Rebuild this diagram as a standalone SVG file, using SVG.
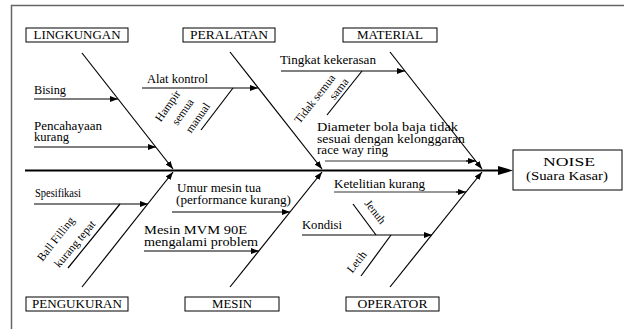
<svg xmlns="http://www.w3.org/2000/svg" width="624" height="329" viewBox="0 0 624 329">
<defs>
<marker id="ah" markerUnits="userSpaceOnUse" markerWidth="8" markerHeight="6" refX="8" refY="3" orient="auto"><path d="M0,0 L8,3 L0,6 z" fill="#000"/></marker>
<style>
text{font-family:"Liberation Serif","Times New Roman",serif;font-size:11.5px;fill:#000}
.box{fill:#fff;stroke:#000;stroke-width:1}
.c{text-anchor:middle}
.ln{stroke:#000;stroke-width:1.2;fill:none}
.ar{stroke:#000;stroke-width:1.2;fill:none;marker-end:url(#ah)}
.gr{stroke:#777;stroke-width:1.6;fill:none}
.rt{font-size:11.5px;text-anchor:middle}
</style>
</defs>
<rect x="11.5" y="5.5" width="650" height="350" fill="none" stroke="#666" stroke-width="1.5"/>

<g id="connectors">
<line x1="25" y1="170.5" x2="500" y2="170.5" stroke="#000" stroke-width="2"/>
<polygon points="498,166 513,170.5 498,175" fill="#000"/>
<line class="ar" x1="82" y1="53" x2="173" y2="169"/>
<line class="ar" x1="230" y1="52" x2="322" y2="169"/>
<line class="ar" x1="390" y1="52" x2="482" y2="169"/>
<line class="ar" x1="82" y1="287" x2="173" y2="172"/>
<line class="ar" x1="230" y1="287" x2="322" y2="172"/>
<line class="ar" x1="390" y1="287" x2="482" y2="172"/>
<line class="ar" x1="34" y1="99" x2="118" y2="99"/>
<line class="ar" x1="34" y1="147" x2="156" y2="147"/>
<line class="ar" x1="142" y1="88" x2="258" y2="88"/>
<line class="ln" x1="233" y1="88" x2="201" y2="130"/>
<line class="ar" x1="281" y1="71" x2="405" y2="71"/>
<line class="ln" x1="362" y1="71" x2="327" y2="115"/>
<line class="gr" x1="325" y1="161" x2="470" y2="161"/>
<line class="ar" x1="466" y1="161" x2="476" y2="161"/>
<line class="ar" x1="34" y1="204" x2="148" y2="204"/>
<line class="ln" x1="120" y1="204" x2="68" y2="268"/>
<line class="ar" x1="172" y1="212" x2="290" y2="212"/>
<line class="ar" x1="144" y1="251" x2="259" y2="251"/>
<line class="gr" x1="334" y1="192" x2="460" y2="192"/>
<line class="ar" x1="456" y1="192" x2="466" y2="192"/>
<line class="ar" x1="302" y1="235" x2="432" y2="235"/>
<line class="ln" x1="353" y1="204" x2="376" y2="235"/>
<line class="ln" x1="391" y1="235" x2="361" y2="276"/>
</g>

<g id="lingkungan"><rect class="box" x="26" y="28" width="102" height="14"/><text class="c" x="77" y="38.5" textLength="87" lengthAdjust="spacingAndGlyphs">LINGKUNGAN</text></g>
<g id="peralatan"><rect class="box" x="183" y="28" width="92" height="14"/><text class="c" x="229" y="38.5" textLength="78" lengthAdjust="spacingAndGlyphs">PERALATAN</text></g>
<g id="material"><rect class="box" x="343" y="28" width="94" height="14"/><text class="c" x="390" y="38.5" textLength="66" lengthAdjust="spacingAndGlyphs">MATERIAL</text></g>
<g id="pengukuran"><rect class="box" x="26" y="297" width="102" height="14"/><text class="c" x="77" y="307.5" textLength="90" lengthAdjust="spacingAndGlyphs">PENGUKURAN</text></g>
<g id="mesin"><rect class="box" x="185" y="297" width="94" height="14"/><text class="c" x="232" y="307.5" textLength="40" lengthAdjust="spacingAndGlyphs">MESIN</text></g>
<g id="operator"><rect class="box" x="346" y="297" width="93" height="14"/><text class="c" x="392.5" y="307.5" textLength="70" lengthAdjust="spacingAndGlyphs">OPERATOR</text></g>
<g id="noise"><rect class="box" x="513" y="150" width="109" height="40"/><text class="c" x="569" y="166" textLength="52" lengthAdjust="spacingAndGlyphs" style="font-size:12.5px">NOISE</text><text class="c" x="567" y="180" textLength="82" lengthAdjust="spacingAndGlyphs" style="font-size:12.5px">(Suara Kasar)</text></g>

<g id="bising"><text x="34" y="94" textLength="32" lengthAdjust="spacingAndGlyphs">Bising</text></g>
<g id="pencahayaan"><text x="34" y="130" textLength="68" lengthAdjust="spacingAndGlyphs">Pencahayaan</text><text x="34" y="141" textLength="35" lengthAdjust="spacingAndGlyphs">kurang</text></g>
<g id="alat-kontrol"><text x="147" y="83" textLength="61" lengthAdjust="spacingAndGlyphs">Alat kontrol</text></g>
<g id="hampir"><text class="rt" transform="translate(168,106) rotate(-55)" y="3.5">Hampir</text><text class="rt" transform="translate(183,112) rotate(-55)" y="3.5">semua</text><text class="rt" transform="translate(198,118) rotate(-55)" y="3.5">manual</text></g>
<g id="tingkat"><text x="280" y="64" textLength="96" lengthAdjust="spacingAndGlyphs">Tingkat kekerasan</text></g>
<g id="tidak-semua"><text class="rt" transform="translate(315,99) rotate(-52)" y="3.5">Tidak semua</text><text class="rt" transform="translate(339,89) rotate(-52)" y="3.5">sama</text></g>
<g id="diameter"><text x="317" y="131" textLength="141" lengthAdjust="spacingAndGlyphs">Diameter bola baja tidak</text><text x="317" y="142.5" textLength="148" lengthAdjust="spacingAndGlyphs">sesuai dengan kelonggaran</text><text x="317" y="154" textLength="71" lengthAdjust="spacingAndGlyphs">race way ring</text></g>
<g id="spesifikasi"><text x="35" y="197" textLength="46" lengthAdjust="spacingAndGlyphs">Spesifikasi</text></g>
<g id="ball-filling"><text class="rt" transform="translate(56,239) rotate(-52)" y="3.5">Ball Filling</text><text class="rt" transform="translate(75,244) rotate(-50)" y="3.5">kurang tepat</text></g>
<g id="umur"><text x="177" y="192" textLength="84" lengthAdjust="spacingAndGlyphs">Umur mesin tua</text><text x="176" y="203.5" textLength="115" lengthAdjust="spacingAndGlyphs">(performance kurang)</text></g>
<g id="mvm"><text x="144" y="234" textLength="103" lengthAdjust="spacingAndGlyphs">Mesin MVM 90E</text><text x="144" y="245.5" textLength="114" lengthAdjust="spacingAndGlyphs">mengalami problem</text></g>
<g id="ketelitian"><text x="334" y="188" textLength="91" lengthAdjust="spacingAndGlyphs">Ketelitian kurang</text></g>
<g id="kondisi"><text x="302" y="229" textLength="40" lengthAdjust="spacingAndGlyphs">Kondisi</text></g>
<g id="jenuh"><text class="rt" transform="translate(375,212) rotate(52)" y="3.5">Jenuh</text></g>
<g id="letih"><text class="rt" transform="translate(357,262) rotate(-52)" y="3.5">Letih</text></g>
</svg>
